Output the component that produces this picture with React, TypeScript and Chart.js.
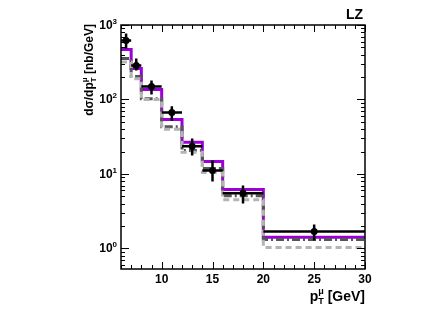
import React, { useEffect, useRef } from 'react';
import { Chart, registerables } from 'chart.js';

Chart.register(...registerables);

// ---- data ----
const binEdges = [6, 7, 8, 10, 12, 14, 16, 20, 30];
const dataX = [6.5, 7.5, 9, 11, 13, 15, 18, 25];
const dataY = [620, 286, 149, 67, 23.5, 11.1, 5.5, 1.69];
const dataErrUp = [150, 68, 31, 14, 6.5, 4.1, 1.5, 0.41];
const dataErrDown = [136, 41, 32, 15, 5.8, 3.2, 1.5, 0.41];
const purpleY = [470, 260, 136, 54, 26.7, 14.7, 6.2, 1.41];
const darkGrayY = [355, 204, 102, 43, 20.6, 11.8, 5.1, 1.32];
const lightGrayY = [318, 190, 100, 40, 19.5, 10.5, 4.5, 1.03];
const xTickValues = [10, 15, 20, 25, 30];
const yTickValues = [1, 10, 100, 1000];
const yTickExponents = ['0', '1', '2', '3'];
const xMin = 6;
const xMax = 30;
const yMin = 0.53;
const yMax = 1000;
const labelText = 'LZ';

const stepData = (vals: number[]) =>
  binEdges.map((x, i) => ({ x, y: vals[Math.min(i, vals.length - 1)] }));

const FONT = '"Liberation Sans", Arial, Helvetica, sans-serif';

const framePlugin = {
  id: 'rootFrame',
  afterDatasetsDraw(chart: any) {
    const { ctx, scales } = chart;
    const xs = scales.x;
    const ys = scales.y;
    ctx.save();
    ctx.strokeStyle = '#000';
    ctx.lineWidth = 2.5;
    dataX.forEach((x, i) => {
      const px = xs.getPixelForValue(x);
      const py = ys.getPixelForValue(dataY[i]);
      const x0 = xs.getPixelForValue(binEdges[i]);
      const x1 = xs.getPixelForValue(binEdges[i + 1]);
      const yu = ys.getPixelForValue(dataY[i] + dataErrUp[i]);
      const yd = ys.getPixelForValue(dataY[i] - dataErrDown[i]);
      ctx.beginPath();
      ctx.moveTo(x0, py);
      ctx.lineTo(x1, py);
      ctx.moveTo(px, yu);
      ctx.lineTo(px, yd);
      ctx.stroke();
    });
    ctx.restore();
  },
  afterDraw(chart: any) {
    const { ctx, chartArea: a, scales } = chart;
    const xs = scales.x;
    const ys = scales.y;
    ctx.save();
    ctx.strokeStyle = '#000';
    ctx.lineWidth = 1.5;
    ctx.strokeRect(a.left, a.top, a.right - a.left, a.bottom - a.top);
    ctx.lineWidth = 1;
    for (let v = xMin; v <= xMax; v += 1) {
      const px = Math.round(xs.getPixelForValue(v)) + 0.5;
      const major = v % 5 === 0;
      const len = major ? 7 : 4;
      ctx.beginPath();
      ctx.moveTo(px, a.bottom);
      ctx.lineTo(px, a.bottom - len);
      ctx.moveTo(px, a.top);
      ctx.lineTo(px, a.top + len);
      ctx.stroke();
    }
    for (let d = -1; d <= 3; d++) {
      for (let m = 1; m <= 9; m++) {
        const v = m * Math.pow(10, d);
        if (v < yMin || v > yMax) continue;
        const py = Math.round(ys.getPixelForValue(v)) + 0.5;
        const len = m === 1 ? 8 : 4;
        ctx.beginPath();
        ctx.moveTo(a.left, py);
        ctx.lineTo(a.left + len, py);
        ctx.moveTo(a.right, py);
        ctx.lineTo(a.right - len, py);
        ctx.stroke();
      }
    }
    ctx.fillStyle = '#000';
    ctx.font = `bold 12px ${FONT}`;
    ctx.textAlign = 'center';
    ctx.textBaseline = 'alphabetic';
    xTickValues.forEach((v) => {
      ctx.fillText(String(v), xs.getPixelForValue(v), a.bottom + 14);
    });
    yTickValues.forEach((v, i) => {
      const py = ys.getPixelForValue(v);
      ctx.font = `bold 8px ${FONT}`;
      ctx.textAlign = 'right';
      const ew = ctx.measureText(yTickExponents[i]).width;
      const right = a.left - 4;
      ctx.fillText(yTickExponents[i], right, py - 1);
      ctx.font = `bold 12px ${FONT}`;
      ctx.fillText('10', right - ew, py + 4);
    });
    {
      const base = a.bottom + 32;
      ctx.textAlign = 'left';
      ctx.font = `bold 14px ${FONT}`;
      const wp = ctx.measureText('p').width;
      ctx.font = `bold 9px ${FONT}`;
      const wsub = Math.max(ctx.measureText('T').width, ctx.measureText('μ').width);
      ctx.font = `bold 14px ${FONT}`;
      const wrest = ctx.measureText(' [GeV]').width;
      let x = a.right - (wp + wsub + wrest);
      ctx.fillText('p', x, base);
      x += wp;
      ctx.font = `bold 9px ${FONT}`;
      ctx.fillText('T', x, base + 3);
      ctx.fillText('μ', x, base - 7);
      x += wsub;
      ctx.font = `bold 14px ${FONT}`;
      ctx.fillText(' [GeV]', x, base);
    }
    {
      ctx.save();
      ctx.translate(a.left - 28, a.top - 1);
      ctx.rotate(-Math.PI / 2);
      ctx.textAlign = 'left';
      ctx.font = `bold 12px ${FONT}`;
      const w1 = ctx.measureText('dσ/dp').width;
      ctx.font = `bold 8px ${FONT}`;
      const wsub = Math.max(ctx.measureText('T').width, ctx.measureText('μ').width);
      ctx.font = `bold 12px ${FONT}`;
      const w2 = ctx.measureText(' [nb/GeV]').width;
      let x = -(w1 + wsub + w2);
      ctx.fillText('dσ/dp', x, 0);
      x += w1;
      ctx.font = `bold 8px ${FONT}`;
      ctx.fillText('T', x, 3);
      ctx.fillText('μ', x, -6);
      x += wsub;
      ctx.font = `bold 12px ${FONT}`;
      ctx.fillText(' [nb/GeV]', x, 0);
      ctx.restore();
    }
    ctx.font = `bold 14px ${FONT}`;
    ctx.textAlign = 'right';
    ctx.fillText(labelText, a.right - 2, a.top - 6);
    ctx.restore();
  },
};

export default function App() {
  const ref = useRef<HTMLCanvasElement | null>(null);
  useEffect(() => {
    document.body.style.margin = '0';
    const canvas = ref.current!;
    const chart = new Chart(canvas, {
      type: 'line',
      data: {
        datasets: [
          {
            type: 'scatter',
            label: 'data',
            data: dataX.map((x, i) => ({ x, y: dataY[i] })),
            backgroundColor: '#000',
            borderColor: '#000',
            pointRadius: 3.5,
            pointBorderWidth: 0,
            showLine: false,
            order: 0,
          } as any,
          {
            label: 'purple',
            data: stepData(purpleY),
            stepped: 'before',
            borderColor: '#9b00d9',
            borderWidth: 3,
            pointRadius: 0,
            fill: false,
            order: 3,
          },
          {
            label: 'darkgray',
            data: stepData(darkGrayY),
            stepped: 'before',
            borderColor: '#555555',
            borderWidth: 3,
            borderDash: [8, 3, 2, 3],
            pointRadius: 0,
            fill: false,
            order: 2,
          },
          {
            label: 'lightgray',
            data: stepData(lightGrayY),
            stepped: 'before',
            borderColor: '#b4b4b4',
            borderWidth: 3,
            borderDash: [6, 4],
            pointRadius: 0,
            fill: false,
            order: 1,
          },
        ],
      },
      options: {
        animation: false,
        responsive: false,
        layout: { padding: { left: 121, right: 77, top: 25, bottom: 40 } },
        plugins: { legend: { display: false }, tooltip: { enabled: false } },
        scales: {
          x: { type: 'linear', min: xMin, max: xMax, display: false },
          y: { type: 'logarithmic', min: yMin, max: yMax, display: false },
        },
      },
      plugins: [framePlugin],
    });
    return () => chart.destroy();
  }, []);
  return (
    <div style={{ position: 'absolute', left: 0, top: 0, width: 442, height: 309, background: '#fff' }}>
      <canvas ref={ref} width={442} height={309} style={{ width: 442, height: 309 }} />
    </div>
  );
}
